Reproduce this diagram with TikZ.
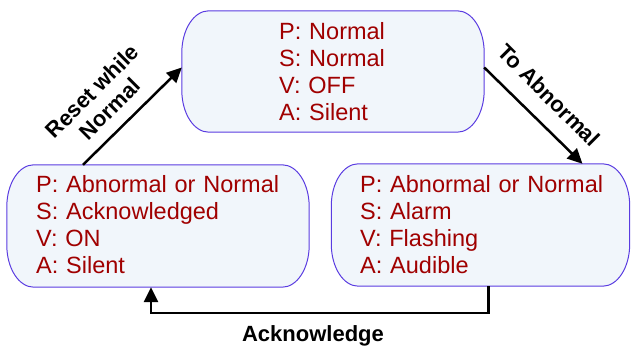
\documentclass[tikz,border=0pt]{standalone}
\usepackage{fontspec}
\setmainfont{Liberation Sans}
\usetikzlibrary{arrows.meta,backgrounds}
\definecolor{boxedge}{RGB}{90,60,225}
\definecolor{boxfill}{RGB}{241,246,251}
\definecolor{statered}{RGB}{160,0,0}
\newcommand\ovalframe[1]{%
 \path[boxline] ([xshift=27pt]#1.north west) -- ([xshift=-27pt]#1.north east)
  arc[start angle=90,end angle=0,x radius=27pt,y radius=42pt]
  -- ([yshift=42pt]#1.south east)
  arc[start angle=0,end angle=-90,x radius=27pt,y radius=42pt]
  -- ([xshift=27pt]#1.south west)
  arc[start angle=270,end angle=180,x radius=27pt,y radius=42pt]
  -- ([yshift=-42pt]#1.north west)
  arc[start angle=180,end angle=90,x radius=27pt,y radius=42pt] -- cycle;}
\begin{document}
\begin{tikzpicture}[x=1pt,y=1pt,
  statebox/.style={rectangle,draw=none,inner sep=0pt,minimum width=302pt,minimum height=122pt},
  boxline/.style={draw=boxedge,fill=boxfill,line width=1pt},
  statetext/.style={text=statered,font=\fontsize{23.5}{26.8}\selectfont,align=left,text width=260pt,inner sep=0pt,anchor=base west},
  trans/.style={-{Triangle[length=15pt,width=14pt]},line width=2.5pt,black},
  translabel/.style={font=\bfseries\fontsize{22}{25}\selectfont,align=center,inner sep=0pt}]
\useasboundingbox (0,0) rectangle (631,347);
\node[statebox,minimum height=121pt] (top) at (333,275.5) {};
\node[statebox] (left) at (158,121) {};
\node[statebox,minimum width=298pt] (right) at (480.5,122) {};
\begin{scope}[on background layer]
  \ovalframe{top}
  \ovalframe{left}
  \ovalframe{right}
\end{scope}
\node[statetext] (toptxt) at (279,307) {P: Normal\\S: Normal\\V: OFF\\A: Silent};
\node[statetext] (lefttxt) at (36,154) {P: Abnormal or Normal\\S: Acknowledged\\V: ON\\A: Silent};
\node[statetext] (righttxt) at (360,154) {P: Abnormal or Normal\\S: Alarm\\V: Flashing\\A: Audible};
\coordinate (ackc) at (320,34);
\draw[trans] ([xshift=-75pt]left.north) -- ([yshift=4pt]top.west);
\draw[trans] ([yshift=4pt]top.east) -- ([xshift=102pt]right.north);
\draw[trans] ([xshift=8pt]right.south) |- (ackc) -| ([xshift=-7pt]left.south);
\node[translabel,rotate=45] (resetlbl) at (101,247) {Reset while\\Normal};
\node[translabel,rotate=-45] (abnlbl) at (549,252) {To Abnormal};
\node[translabel,anchor=base] (acklbl) at (313,5.5) {Acknowledge};
\end{tikzpicture}
\end{document}
